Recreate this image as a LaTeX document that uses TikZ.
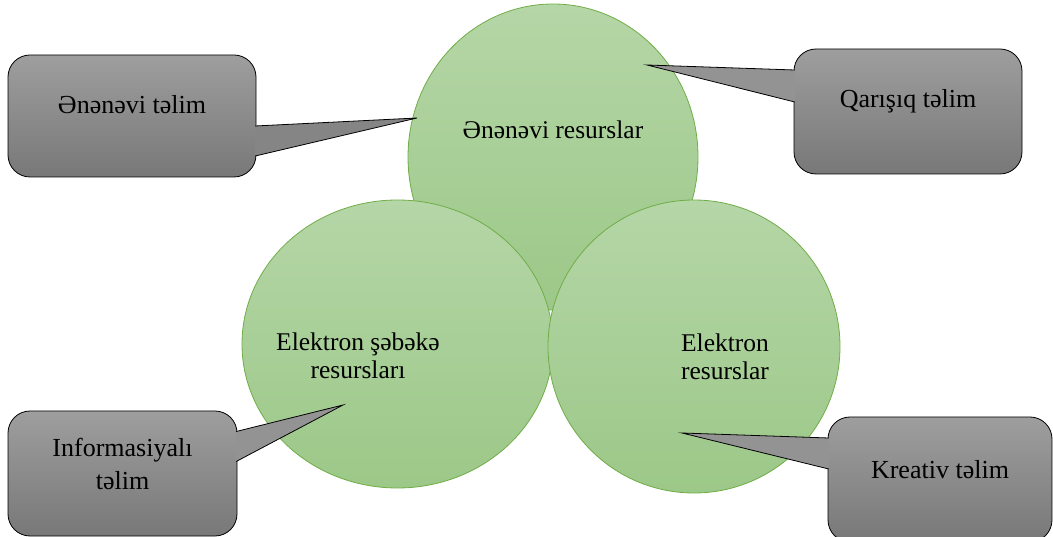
\documentclass[tikz,border=0pt]{standalone}
\usepackage{fontspec}
\setmainfont{Liberation Serif}
\usetikzlibrary{shapes}

\definecolor{resTop}{RGB}{181,214,167}
\definecolor{resBot}{RGB}{156,200,136}
\definecolor{resLine}{RGB}{112,173,71}
\definecolor{boxTop}{RGB}{158,158,158}
\definecolor{boxBot}{RGB}{120,120,120}

\tikzset{
  res/.style={shape=ellipse,draw=resLine,line width=0.8pt,top color=resTop,bottom color=resBot,inner sep=0pt},
  restext/.style={align=center,font=\fontsize{25.5}{28}\selectfont},
  callbox/.style={shape=rectangle,rounded corners=22pt,draw=black,line width=0.8pt,top color=boxTop,bottom color=boxBot,inner sep=0pt},
  calltext/.style={align=center,font=\fontsize{26}{33}\selectfont},
  pointer/.style={draw=black,line width=0.8pt,line join=miter,fill=#1}
}

\begin{document}
\begin{tikzpicture}[x=1pt,y=-1pt]
\useasboundingbox (0,0) rectangle (1053,537);

\node[res,minimum width=290pt,minimum height=306pt] (top) at (553,157) {};
\node[res,minimum width=311pt,minimum height=288pt] (left) at (397.5,344) {};
\node[res,minimum width=292pt,minimum height=293pt] (right) at (694,346.5) {};

\node[restext] (topT) at (553,130) {Ənənəvi resurslar};
\node[restext] (leftT) at (358,356) {Elektron şəbəkə\\resursları};
\node[restext] (rightT) at (725,357) {Elektron\\resurslar};

\node[callbox,minimum width=248pt,minimum height=122pt] (A) at (132,116) {};
\node[callbox,minimum width=228pt,minimum height=125pt] (B) at (908,111.5) {};
\node[callbox,minimum width=229pt,minimum height=125pt] (C) at (122.5,473.5) {};
\node[callbox,minimum width=224pt,minimum height=125pt] (D) at (940,479.5) {};

\coordinate (tipA) at (417,118);
\coordinate (tipB) at (647,65);
\coordinate (tipC) at (343,405);
\coordinate (tipD) at (682,433);

\path[pointer=boxBot!65!boxTop] ([xshift=-1.2pt,yshift=-10pt]A.east) -- (tipA) -- ([xshift=-1.2pt,yshift=-40pt]A.east);
\path[pointer=boxBot!30!boxTop] ([xshift=1.2pt,yshift=41.5pt]B.west) -- (tipB) -- ([xshift=1.2pt,yshift=9.5pt]B.west);
\path[pointer=boxBot!30!boxTop] ([xshift=-1.2pt,yshift=42pt]C.east) -- (tipC) -- ([xshift=-1.2pt,yshift=12pt]C.east);
\path[pointer=boxBot!30!boxTop] ([xshift=1.2pt,yshift=41.5pt]D.west) -- (tipD) -- ([xshift=1.2pt,yshift=10.5pt]D.west);

\node[calltext] (AT) at ([yshift=11pt]A.center) {Ənənəvi təlim};
\node[calltext] (BT) at ([yshift=10pt]B.center) {Qarışıq təlim};
\node[calltext] (CT) at ([yshift=10pt]C.center) {Informasiyalı\\təlim};
\node[calltext] (DT) at ([yshift=10pt]D.center) {Kreativ təlim};
\end{tikzpicture}
\end{document}
